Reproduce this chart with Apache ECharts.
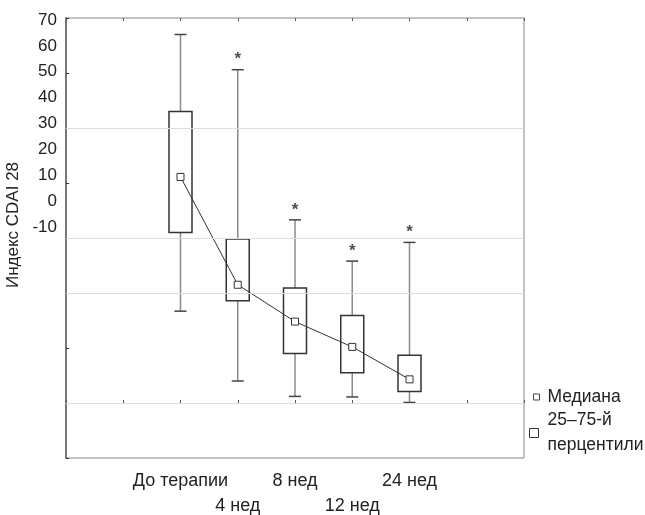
<!DOCTYPE html>
<html>
<head>
<meta charset="utf-8">
<script src="https://cdn.jsdelivr.net/npm/echarts@6/dist/echarts.min.js"></script>
<style>
  html, body { margin: 0; padding: 0; background: #fff; }
  #chart { width: 645px; height: 515px; }
</style>
</head>
<body>
<div id="chart"></div>
<script>
// categories on a value x axis (0..8), boxes sit at 2..6
const xLabels = ['До терапии', '4 нед', '8 нед', '12 нед', '24 нед']
const xPos = [2, 3, 4, 5, 6]

const whiskerLow = [16.7, 4.0, 1.2, 1.1, 0.1]
const q1 = [31.0, 18.6, 9.0, 5.5, 2.1]
const medians = [41.1, 21.5, 14.8, 10.2, 4.3]
const q3 = [53.0, 29.8, 20.9, 15.9, 8.7]
const whiskerHigh = [67.0, 60.6, 33.3, 25.8, 29.2]
const significant = [false, true, true, true, true]

const gridValues = [50, 30, 20, 0]

const FONT = '"Liberation Sans", Arial, sans-serif'
const chart = echarts.init(document.getElementById('chart'))

function renderBox(params, api) {
  const x = api.value(0)
  const pLow = api.coord([x, api.value(1)])
  const pQ1 = api.coord([x, api.value(2)])
  const pQ3 = api.coord([x, api.value(3)])
  const pHigh = api.coord([x, api.value(4)])
  const bw = 23
  const cw = 12
  return {
    type: 'group',
    children: [
      { type: 'line', shape: { x1: pLow[0], y1: pLow[1], x2: pHigh[0], y2: pHigh[1] }, style: { stroke: '#8a8a8a', lineWidth: 1.5 } },
      { type: 'line', shape: { x1: pLow[0] - cw / 2, y1: pLow[1], x2: pLow[0] + cw / 2, y2: pLow[1] }, style: { stroke: '#444', lineWidth: 1.5 } },
      { type: 'line', shape: { x1: pHigh[0] - cw / 2, y1: pHigh[1], x2: pHigh[0] + cw / 2, y2: pHigh[1] }, style: { stroke: '#444', lineWidth: 1.5 } },
      { type: 'rect', shape: { x: pQ3[0] - bw / 2, y: pQ3[1], width: bw, height: pQ1[1] - pQ3[1] }, style: { fill: '#fff', stroke: '#333', lineWidth: 1.5 } }
    ]
  }
}

const option = {
  animation: false,
  backgroundColor: '#fff',
  textStyle: { fontFamily: FONT },
  grid: [
    { left: 66, right: 121, top: 18, bottom: 57, show: true, borderColor: '#888', borderWidth: 1, outerBoundsMode: 'none' },
    { left: 66, right: 121, top: 20, height: 207, outerBoundsMode: 'none' }
  ],
  xAxis: [
    {
      type: 'value', gridIndex: 0, min: 0, max: 8, interval: 1,
      axisLine: { show: true, lineStyle: { color: '#bbb', width: 1 } },
      axisTick: { show: true, inside: true, length: 3, lineStyle: { color: '#555' } },
      splitLine: { show: false },
      axisLabel: {
        margin: 11, fontSize: 18, color: '#222', lineHeight: 25, fontFamily: FONT,
        showMinLabel: true, showMaxLabel: true,
        formatter: function (v) {
          const i = xPos.indexOf(v)
          if (i < 0) return ''
          return i % 2 === 1 ? '\n' + xLabels[i] : xLabels[i]
        }
      }
    },
    {
      type: 'value', gridIndex: 0, position: 'top', min: 0, max: 8, interval: 1,
      axisLine: { show: false },
      axisTick: { show: true, inside: true, length: 3, lineStyle: { color: '#555' } },
      axisLabel: { show: false },
      splitLine: { show: false }
    },
    { type: 'value', gridIndex: 1, min: 0, max: 8, show: false }
  ],
  yAxis: [
    {
      type: 'value', gridIndex: 0, min: -10, max: 70, interval: 10,
      name: 'Индекс CDAI 28', nameLocation: 'middle', nameGap: 44,
      nameTextStyle: { fontSize: 17, color: '#222', fontFamily: FONT, padding: [0, 0, 0, 26] },
      axisLine: { show: true, lineStyle: { color: '#777', width: 2 } },
      axisTick: { show: true, inside: true, length: 3, lineStyle: { color: '#333' } },
      axisLabel: { show: false },
      splitLine: { show: false }
    },
    {
      type: 'value', gridIndex: 1, min: -10, max: 70, interval: 10,
      axisLine: { show: false },
      axisTick: { show: false },
      splitLine: { show: false },
      axisLabel: { fontSize: 17, color: '#222', margin: 9, fontFamily: FONT }
    }
  ],
  legend: [
    {
      orient: 'vertical', left: 528, top: 383,
      itemWidth: 6, itemHeight: 6,
      textStyle: { fontSize: 17.5, color: '#222', fontFamily: FONT, padding: [0, 0, 0, 3] },
      data: [{ name: 'Медиана', icon: 'rect', itemStyle: { color: '#fff', borderColor: '#444', borderWidth: 1 } }]
    },
    {
      orient: 'vertical', left: 524, top: 403,
      itemWidth: 9, itemHeight: 9,
      textStyle: { fontSize: 17.5, color: '#222', fontFamily: FONT, lineHeight: 25, padding: [0, 0, 0, 4] },
      formatter: function (name) { return name.replace(' ', '\n') },
      data: [{ name: '25–75-й перцентили', icon: 'rect', itemStyle: { color: '#fff', borderColor: '#333', borderWidth: 1 } }]
    }
  ],
  series: [
    {
      name: 'grid', type: 'line', data: [], z: 1, silent: true,
      markLine: {
        silent: true, symbol: 'none', label: { show: false },
        lineStyle: { color: '#ddd', type: 'solid', width: 1 },
        data: gridValues.map(v => ({ yAxis: v }))
      }
    },
    {
      name: '25–75-й перцентили', type: 'custom', z: 2,
      renderItem: renderBox,
      encode: { x: 0, y: [1, 2, 3, 4] },
      data: xPos.map((x, i) => [x, whiskerLow[i], q1[i], q3[i], whiskerHigh[i]])
    },
    {
      name: 'signif', type: 'scatter', z: 3, symbolSize: 1,
      itemStyle: { color: 'rgba(0,0,0,0)' },
      label: { show: true, position: 'top', distance: 1, formatter: '*', fontSize: 17, fontWeight: 'bold', color: '#222' },
      data: xPos.map((x, i) => [x, whiskerHigh[i]]).filter((d, i) => significant[i])
    },
    {
      name: 'Медиана', type: 'line', z: 4,
      symbol: 'rect', symbolSize: 7,
      itemStyle: { color: '#fff', borderColor: '#333', borderWidth: 1 },
      lineStyle: { color: '#333', width: 1 },
      data: xPos.map((x, i) => [x, medians[i]])
    }
  ]
}

chart.setOption(option)
</script>
</body>
</html>
